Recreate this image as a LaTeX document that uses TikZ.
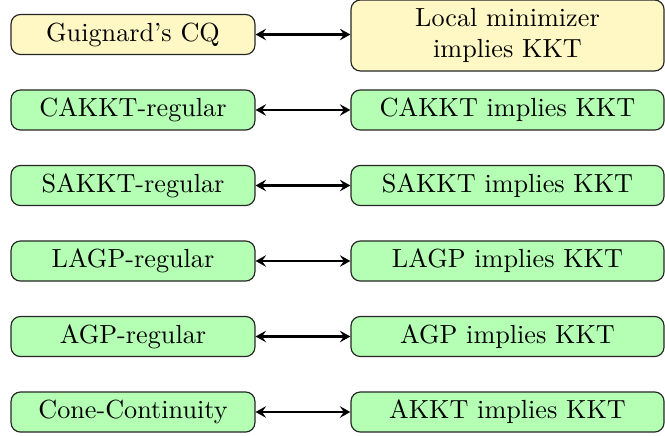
\documentclass[tikz,border=0pt]{standalone}
\usetikzlibrary{arrows.meta}
\definecolor{boxyellow}{RGB}{255,248,196}
\definecolor{boxgreen}{RGB}{180,255,180}
\begin{document}
\begin{tikzpicture}[x=0.3817pt,y=-0.3817pt,
  basebox/.style={draw=black!85,rounded corners=3.6pt,line width=0.45pt,inner sep=1pt,align=center,minimum height=15.3pt},
  leftbox/.style={basebox,minimum width=93.1pt},
  rightbox/.style={basebox,minimum width=119.5pt},
  yel/.style={fill=boxyellow},
  grn/.style={fill=boxgreen},
  link/.style={{Stealth[length=4pt,width=4.4pt,inset=1.5pt]}-{Stealth[length=4pt,width=4.4pt,inset=1.5pt]},line width=0.85pt}
]
\useasboundingbox (0,0) rectangle (665,435);
\node[leftbox,yel] (l1) at (133,34.5) {Guignard's CQ};
\node[rightbox,yel,minimum height=27.1pt] (r1) at (507.5,35.5) {Local minimizer\\implies KKT};
\node[leftbox,grn] (l2) at (133,110) {CAKKT-regular};
\node[rightbox,grn] (r2) at (507.5,110) {CAKKT implies KKT};
\node[leftbox,grn] (l3) at (133,185.5) {SAKKT-regular};
\node[rightbox,grn] (r3) at (507.5,185.5) {SAKKT implies KKT};
\node[leftbox,grn] (l4) at (133,261) {LAGP-regular};
\node[rightbox,grn] (r4) at (507.5,261) {LAGP implies KKT};
\node[leftbox,grn] (l5) at (133,336.5) {AGP-regular};
\node[rightbox,grn] (r5) at (507.5,336.5) {AGP implies KKT};
\node[leftbox,grn] (l6) at (133,412) {Cone-Continuity};
\node[rightbox,grn] (r6) at (507.5,412) {AKKT implies KKT};
\draw[link] (l1.east) -- (l1.east -| r1.west);
\draw[link] (l2) -- (r2);
\draw[link] (l3) -- (r3);
\draw[link] (l4) -- (r4);
\draw[link] (l5) -- (r5);
\draw[link] (l6) -- (r6);
\end{tikzpicture}
\end{document}
